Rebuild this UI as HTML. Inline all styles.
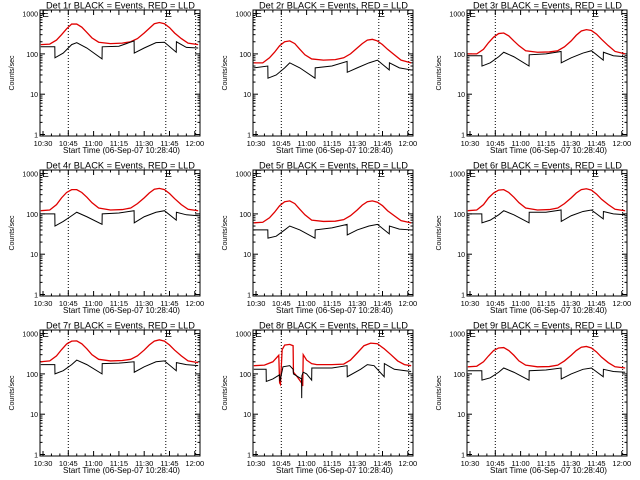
<!DOCTYPE html>
<html><head><meta charset="utf-8"><style>
html,body{margin:0;padding:0;background:#fff;}
svg{display:block;font-family:"Liberation Sans",sans-serif;}
</style></head><body>
<svg id="root" width="640" height="480" viewBox="0 0 640 480"></svg>
<script>
const NS="http://www.w3.org/2000/svg";
const panelNames=["1r","2r","3r","4r","5r","6r","7r","8r","9r"];
const xTickLabels=["10:30","10:45","11:00","11:15","11:30","11:45","12:00"];
const yTickValues=[1,10,100,1000];
const yTickLabels=["1","10","100","1000"];
const dottedTimes=[15,72.8,90.5];
const redT=[-1.3,4,8,11,14,17,20,23,26,29,33,40,47,52,56,60,63,66,69,72,75,78,82,86,92];
const blackT=[-1.3,7,7.1,12,17,20,26,35,35.1,45,54,54.1,60,67,72,79,79.1,85,92];
const red1=[170,175,220,300,420,550,550,460,340,250,195,180,185,200,240,330,430,560,600,560,450,330,240,185,170];
const black1=[150,150,80,105,170,190,140,75,150,155,210,105,140,190,195,110,200,145,140];
const red2=[60,60,80,110,160,200,210,180,130,95,75,70,72,80,100,140,180,220,230,210,170,130,95,70,60];
const black2=[45,50,25,30,45,60,45,25,45,50,65,35,45,60,70,40,60,45,40];
const red3=[100,100,130,190,260,320,330,280,210,160,120,110,112,120,150,210,290,370,400,380,310,230,160,115,100];
const black3=[90,90,50,60,85,110,85,50,95,100,115,60,80,105,120,70,110,90,85];
const red4=[120,125,170,250,340,400,400,340,260,190,140,125,128,140,180,250,330,410,430,400,320,240,170,130,120];
const black4=[100,100,50,65,90,110,85,55,100,105,120,60,85,110,120,70,110,95,90];
const red5=[60,62,80,110,160,200,210,180,130,95,70,65,66,72,90,125,165,200,210,195,160,120,90,68,60];
const black5=[40,40,25,28,40,50,40,25,40,45,55,30,40,50,55,32,50,42,40];
const red6=[120,125,170,250,330,390,400,340,260,190,140,125,128,140,180,250,330,400,420,390,310,230,170,130,120];
const black6=[100,100,60,70,95,120,95,60,110,110,125,65,90,115,125,75,115,100,95];
const red7=[200,210,280,400,550,650,660,560,420,300,230,210,215,230,280,390,520,650,700,650,520,390,280,210,190];
const black7=[170,170,100,120,170,220,170,100,180,185,200,110,150,200,210,120,190,170,160];
const red8T=[-1.3,5,10,13.5,14,14.5,15.5,17,20,22,22.2,24,27,27.7,28,30,33,36,45,52,56,60,64,68,72,76,80,84,88,92];
const red8=[160,165,200,290,60,55,400,520,540,500,110,90,60,50,300,220,180,170,170,175,220,330,500,580,560,420,300,210,170,160];
const black8T=[-1.3,6,6.1,10,14,14.2,16,20,22,22.2,27,27.1,27.2,28,30,33,33.1,45,54,54.1,62,66,70,76,76.1,82,92];
const black8=[130,130,65,75,95,65,150,160,130,100,75,25,90,110,100,70,140,140,160,85,130,170,160,85,180,130,115];
const red9=[150,155,200,280,380,440,450,380,290,210,165,150,152,165,210,290,380,460,480,440,350,260,190,150,140];
const black9=[120,120,70,80,110,140,110,70,120,125,140,75,100,130,140,85,130,115,110];
const series=[
 [redT,red1,blackT,black1],[redT,red2,blackT,black2],[redT,red3,blackT,black3],
 [redT,red4,blackT,black4],[redT,red5,blackT,black5],[redT,red6,blackT,black6],
 [redT,red7,blackT,black7],[red8T,red8,black8T,black8],[redT,red9,blackT,black9]];
const colOff=[0,213,427], rowOff=[0,160,320];
const root=document.getElementById('root');
function mk(tag,attrs,parent){const e=document.createElementNS(NS,tag);for(const k in attrs)e.setAttribute(k,attrs[k]);parent.appendChild(e);return e;}
const L=40,R=200,T=10,B=136;
function xs(t){return 43+t*25.3/15;}
function ys(v){return 134.5-Math.log10(v)*40.3;}
for(let p=0;p<9;p++){
 const g=mk('g',{transform:`translate(${colOff[p%3]},${rowOff[Math.floor(p/3)]})`},root);
 
 
 const title=mk('text',{x:46,y:8.5,'font-size':9,textLength:149,lengthAdjust:'spacingAndGlyphs'},g);
 title.textContent=`Det ${panelNames[p]} BLACK = Events, RED = LLD`;
 
 
 const yl=mk('text',{x:0,y:0,'text-anchor':'middle','font-size':7,transform:'translate(14,73) rotate(-90)'},g);
 yl.textContent='Counts/sec';
 
 
 const xl=mk('text',{x:63,y:153,'font-size':8,textLength:117,lengthAdjust:'spacingAndGlyphs'},g);
 xl.textContent='Start Time (06-Sep-07 10:28:40)';
 
 
 const box=mk('rect',{x:L,y:T,width:R-L,height:B-T,fill:'none',stroke:'#000','stroke-width':1},g);
 
 
 yTickValues.forEach((v,i)=>{
  const y=ys(v);
  mk('line',{x1:L,x2:L+5,y1:y,y2:y,stroke:'#000'},g);
  mk('line',{x1:R-5,x2:R,y1:y,y2:y,stroke:'#000'},g);
  const t=mk('text',{x:L-2,y:y+3,'text-anchor':'end','font-size':7},g);
  t.textContent=yTickLabels[i];
  
  
  if(v<1000)for(let m=2;m<10;m++){const yy=ys(v*m);
   mk('line',{x1:L,x2:L+2.5,y1:yy,y2:yy,stroke:'#000'},g);
   mk('line',{x1:R-2.5,x2:R,y1:yy,y2:yy,stroke:'#000'},g);}
 });
 xTickLabels.forEach((lab,i)=>{
  const x=xs(i*15);
  mk('line',{x1:x,x2:x,y1:B,y2:B-5,stroke:'#000'},g);
  mk('line',{x1:x,x2:x,y1:T,y2:T+5,stroke:'#000'},g);
  const t=mk('text',{x:x,y:146,'text-anchor':'middle','font-size':7.5},g);
  t.textContent=lab;
  
  
  for(let m=5;m<15&&i<6;m+=5){const xx=xs(i*15+m);
   mk('line',{x1:xx,x2:xx,y1:B,y2:B-2.5,stroke:'#000'},g);
   mk('line',{x1:xx,x2:xx,y1:T,y2:T+2.5,stroke:'#000'},g);}
 });
 dottedTimes.forEach(t=>{const x=xs(t);
  const l=mk('line',{x1:x,x2:x,y1:T,y2:B,stroke:'#000','stroke-dasharray':'1,2'},g);
  
  });
 [xs(-0.5),xs(72.5)].forEach(x=>{const e=mk('text',{x:x,y:T+7,'font-size':10},g);e.textContent='E';
  
  });
 const [rt,rv,bt,bv]=series[p];
 const rp=mk('polyline',{points:rt.map((t,i)=>xs(t)+','+ys(rv[i])).join(' '),fill:'none',stroke:'#e00000','stroke-width':1.3},g);
 
 
 const bp=mk('polyline',{points:bt.map((t,i)=>xs(t)+','+ys(bv[i])).join(' '),fill:'none',stroke:'#000','stroke-width':1},g);
 
 
}
</script>
</body></html>
